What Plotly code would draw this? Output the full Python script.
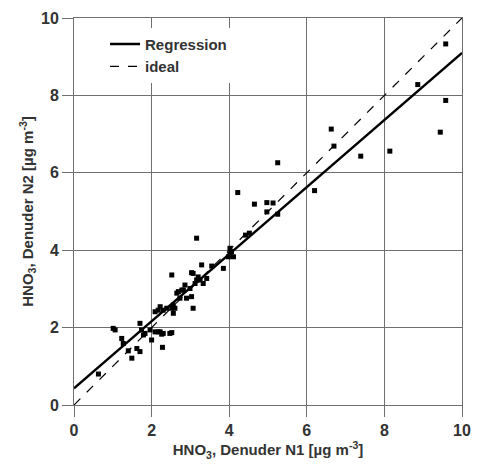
import numpy as np
import plotly.graph_objects as go

# Denuder N1 vs N2 HNO3 values
n1 = [0.63, 1.01, 1.06, 1.23, 1.27, 1.40, 1.49, 1.62, 1.70, 1.70, 1.74, 1.79, 1.83,
      1.96, 2.00, 2.09, 2.17, 2.22, 2.26, 2.28, 2.30, 2.47, 2.52, 2.09, 2.22, 2.17,
      2.30, 2.39, 2.52, 2.56, 2.56, 2.60, 2.52, 2.65, 2.69, 2.78, 2.86, 2.90, 3.03,
      2.99, 2.82, 2.73, 3.07, 3.07, 3.12, 3.20, 3.29, 3.25, 3.33, 3.42, 3.03, 3.16,
      3.55, 3.85, 3.98, 4.02, 4.06, 4.11, 4.02, 3.16, 4.22, 4.42, 4.52, 4.65, 4.97,
      5.13, 4.97, 5.25, 6.20, 5.25, 6.63, 6.70, 7.39, 8.14, 8.86, 9.44, 9.58, 9.58]
n2 = [0.80, 1.98, 1.94, 1.72, 1.59, 1.40, 1.21, 1.46, 1.38, 2.11, 1.94, 1.81, 1.85,
      1.94, 1.68, 1.89, 1.89, 1.89, 1.83, 1.49, 1.85, 1.85, 1.87, 2.41, 2.54, 2.45,
      2.45, 2.50, 2.50, 2.37, 2.58, 2.50, 3.36, 2.89, 2.93, 2.97, 3.10, 2.76, 2.80,
      3.01, 2.97, 2.76, 2.50, 3.40, 3.14, 3.31, 3.62, 3.23, 3.14, 3.27, 3.42, 3.23,
      3.59, 3.53, 3.83, 4.05, 3.96, 3.83, 3.90, 4.31, 5.49, 4.39, 4.44, 5.19, 5.23,
      5.22, 4.99, 4.93, 5.54, 6.26, 7.13, 6.69, 6.43, 6.56, 8.28, 7.05, 7.87, 9.33]

# regression fit as drawn in the figure
reg_intercept = 0.43
reg_slope = 0.867
line_x = [0, 10]

family = "Liberation Sans, Arial, sans-serif"

fig = go.Figure()

fig.add_trace(go.Scatter(
    x=line_x, y=[reg_intercept + reg_slope * v for v in line_x],
    mode="lines", line=dict(color="black", width=2.4),
    name="Regression",
))
fig.add_trace(go.Scatter(
    x=line_x, y=line_x,
    mode="lines", line=dict(color="black", width=1.2, dash="dash"),
    name="ideal",
))
fig.add_trace(go.Scatter(
    x=n1, y=n2, mode="markers",
    marker=dict(symbol="square", size=5, color="black"),
    showlegend=False,
))

axis_common = dict(
    range=[0, 10], dtick=2, showgrid=True, gridcolor="#6f6f6f", gridwidth=1,
    showline=True, linecolor="#6f6f6f", linewidth=1, mirror=True,
    ticks="outside", ticklen=11, tickcolor="#6f6f6f", zeroline=False,
    automargin=False,
    tickfont=dict(family=family, size=16, color="#333333", weight="bold"),
)

fig.update_layout(
    width=477, height=466,
    margin=dict(l=74, r=15, t=18, b=61),
    plot_bgcolor="white", paper_bgcolor="white",
    font=dict(family=family, size=15, color="#333333"),
    xaxis=dict(axis_common, title=dict(
        text="HNO<sub>3</sub>, Denuder N1 [µg m<sup>-3</sup>]", standoff=2,
        font=dict(size=15, weight="bold"))),
    yaxis=dict(axis_common, title=dict(
        text="HNO<sub>3</sub>, Denuder N2 [µg m<sup>-3</sup>]", standoff=3,
        font=dict(size=15, weight="bold"))),
    legend=dict(x=0.08, y=0.975, xanchor="left", yanchor="top",
                bgcolor="white", borderwidth=0,
                font=dict(size=15, weight="bold"), tracegroupgap=0),
)

# drop the default page margin so the figure sits at the window corner
fig.write_html("out.html", config={"displayModeBar": False},
               post_script="document.body.style.margin='0';")
